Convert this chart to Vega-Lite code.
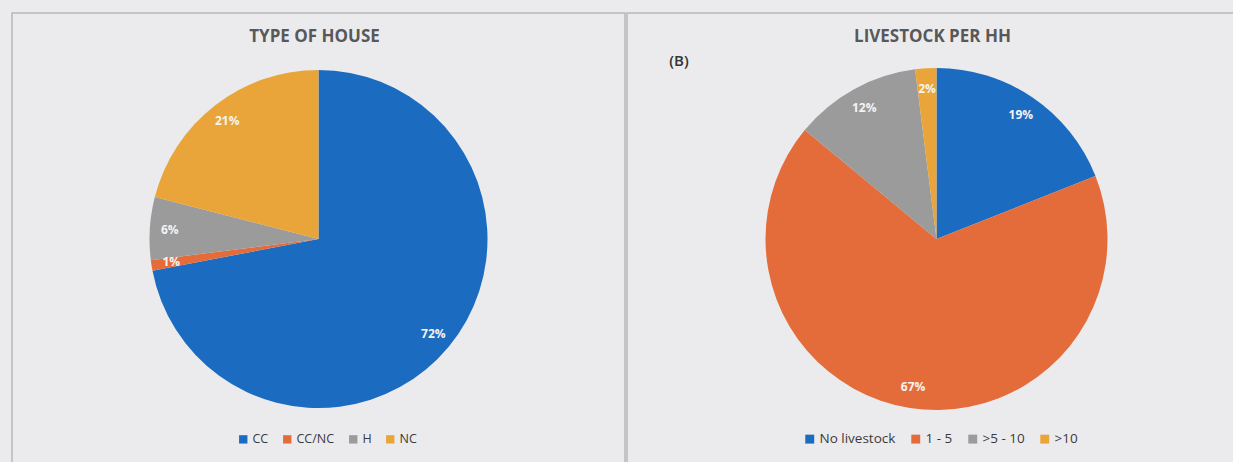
{
  "$schema": "https://vega.github.io/schema/vega-lite/v6.json",
  "background": "#ebebee",
  "padding": {"left": 11, "top": 12, "right": 0, "bottom": 0},
  "spacing": 0,
  "resolve": {"scale": {"color": "independent"}, "legend": {"color": "independent"}},
  "config": {
    "font": "Open Sans",
    "view": {"stroke": "#b8b8bb", "strokeWidth": 1.5},
    "title": {"fontSize": 17, "fontWeight": "bold", "color": "#585858", "font": "Open Sans", "dx": -4},
    "legend": {"labelFontSize": 12.5, "labelColor": "#3a3a3a", "symbolType": "square", "symbolSize": 70, "symbolStrokeWidth": 0, "columnPadding": 12, "labelOffset": 3, "labelFont": "Open Sans"}
  },
  "hconcat": [
    {
      "width": 613,
      "height": 452,
      "view": {"stroke": "#b8b8bb", "strokeWidth": 1.5},
      "title": {"text": "TYPE OF HOUSE", "offset": -33},
      "data": {"values": [
        {"type": "CC", "pct": 72, "label": "72%", "idx": 1},
        {"type": "CC/NC", "pct": 1, "label": "1%", "idx": 2},
        {"type": "H", "pct": 6, "label": "6%", "idx": 3},
        {"type": "NC", "pct": 21, "label": "21%", "idx": 4}
      ]},
      "encoding": {
        "theta": {"field": "pct", "type": "quantitative", "stack": true},
        "order": {"field": "idx", "type": "quantitative"}
      },
      "layer": [
        {
          "mark": {"type": "arc", "outerRadius": 169},
          "encoding": {
            "color": {"field": "type", "type": "nominal",
              "scale": {"domain": ["CC", "CC/NC", "H", "NC"], "range": ["#1b6cc0", "#e46c3a", "#9b9b9b", "#eaa53a"]},
              "legend": {"title": null, "orient": "none", "direction": "horizontal", "legendX": 225, "legendY": 420}}
          }
        },
        {
          "mark": {"type": "text", "radius": 149, "color": "#f4f4f4", "fontSize": 12, "fontWeight": "bold", "font": "Open Sans"},
          "encoding": {"text": {"field": "label"}, "detail": {"field": "type"}}
        }
      ]
    },
    {
      "title": {"text": "(B)", "anchor": "start", "offset": -57, "dx": 43, "fontSize": 15, "fontWeight": 600, "color": "#333333"},
      "vconcat": [
        {
          "width": 619,
          "height": 452,
          "view": {"stroke": "#b8b8bb", "strokeWidth": 1.5},
          "title": {"text": "LIVESTOCK PER HH", "offset": -33},
          "data": {"values": [
            {"type": "No livestock", "pct": 19, "label": "19%", "idx": 1},
            {"type": "1 - 5", "pct": 67, "label": "67%", "idx": 2},
            {"type": ">5 - 10", "pct": 12, "label": "12%", "idx": 3},
            {"type": ">10", "pct": 2, "label": "2%", "idx": 4}
          ]},
          "encoding": {
            "theta": {"field": "pct", "type": "quantitative", "stack": true},
            "order": {"field": "idx", "type": "quantitative"}
          },
          "layer": [
            {
              "mark": {"type": "arc", "outerRadius": 171},
              "encoding": {
                "color": {"field": "type", "type": "nominal",
                  "scale": {"domain": ["No livestock", "1 - 5", ">5 - 10", ">10"], "range": ["#1b6cc0", "#e46c3a", "#9b9b9b", "#eaa53a"]},
                  "legend": {"title": null, "orient": "none", "direction": "horizontal", "legendX": 176, "legendY": 419, "labelFontSize": 13.5, "columnPadding": 13, "symbolSize": 80}}
              }
            },
            {
              "mark": {"type": "text", "radius": 150, "color": "#f4f4f4", "fontSize": 12, "fontWeight": "bold", "font": "Open Sans"},
              "encoding": {"text": {"field": "label"}, "detail": {"field": "type"}}
            }
          ]
        }
      ]
    }
  ]
}
